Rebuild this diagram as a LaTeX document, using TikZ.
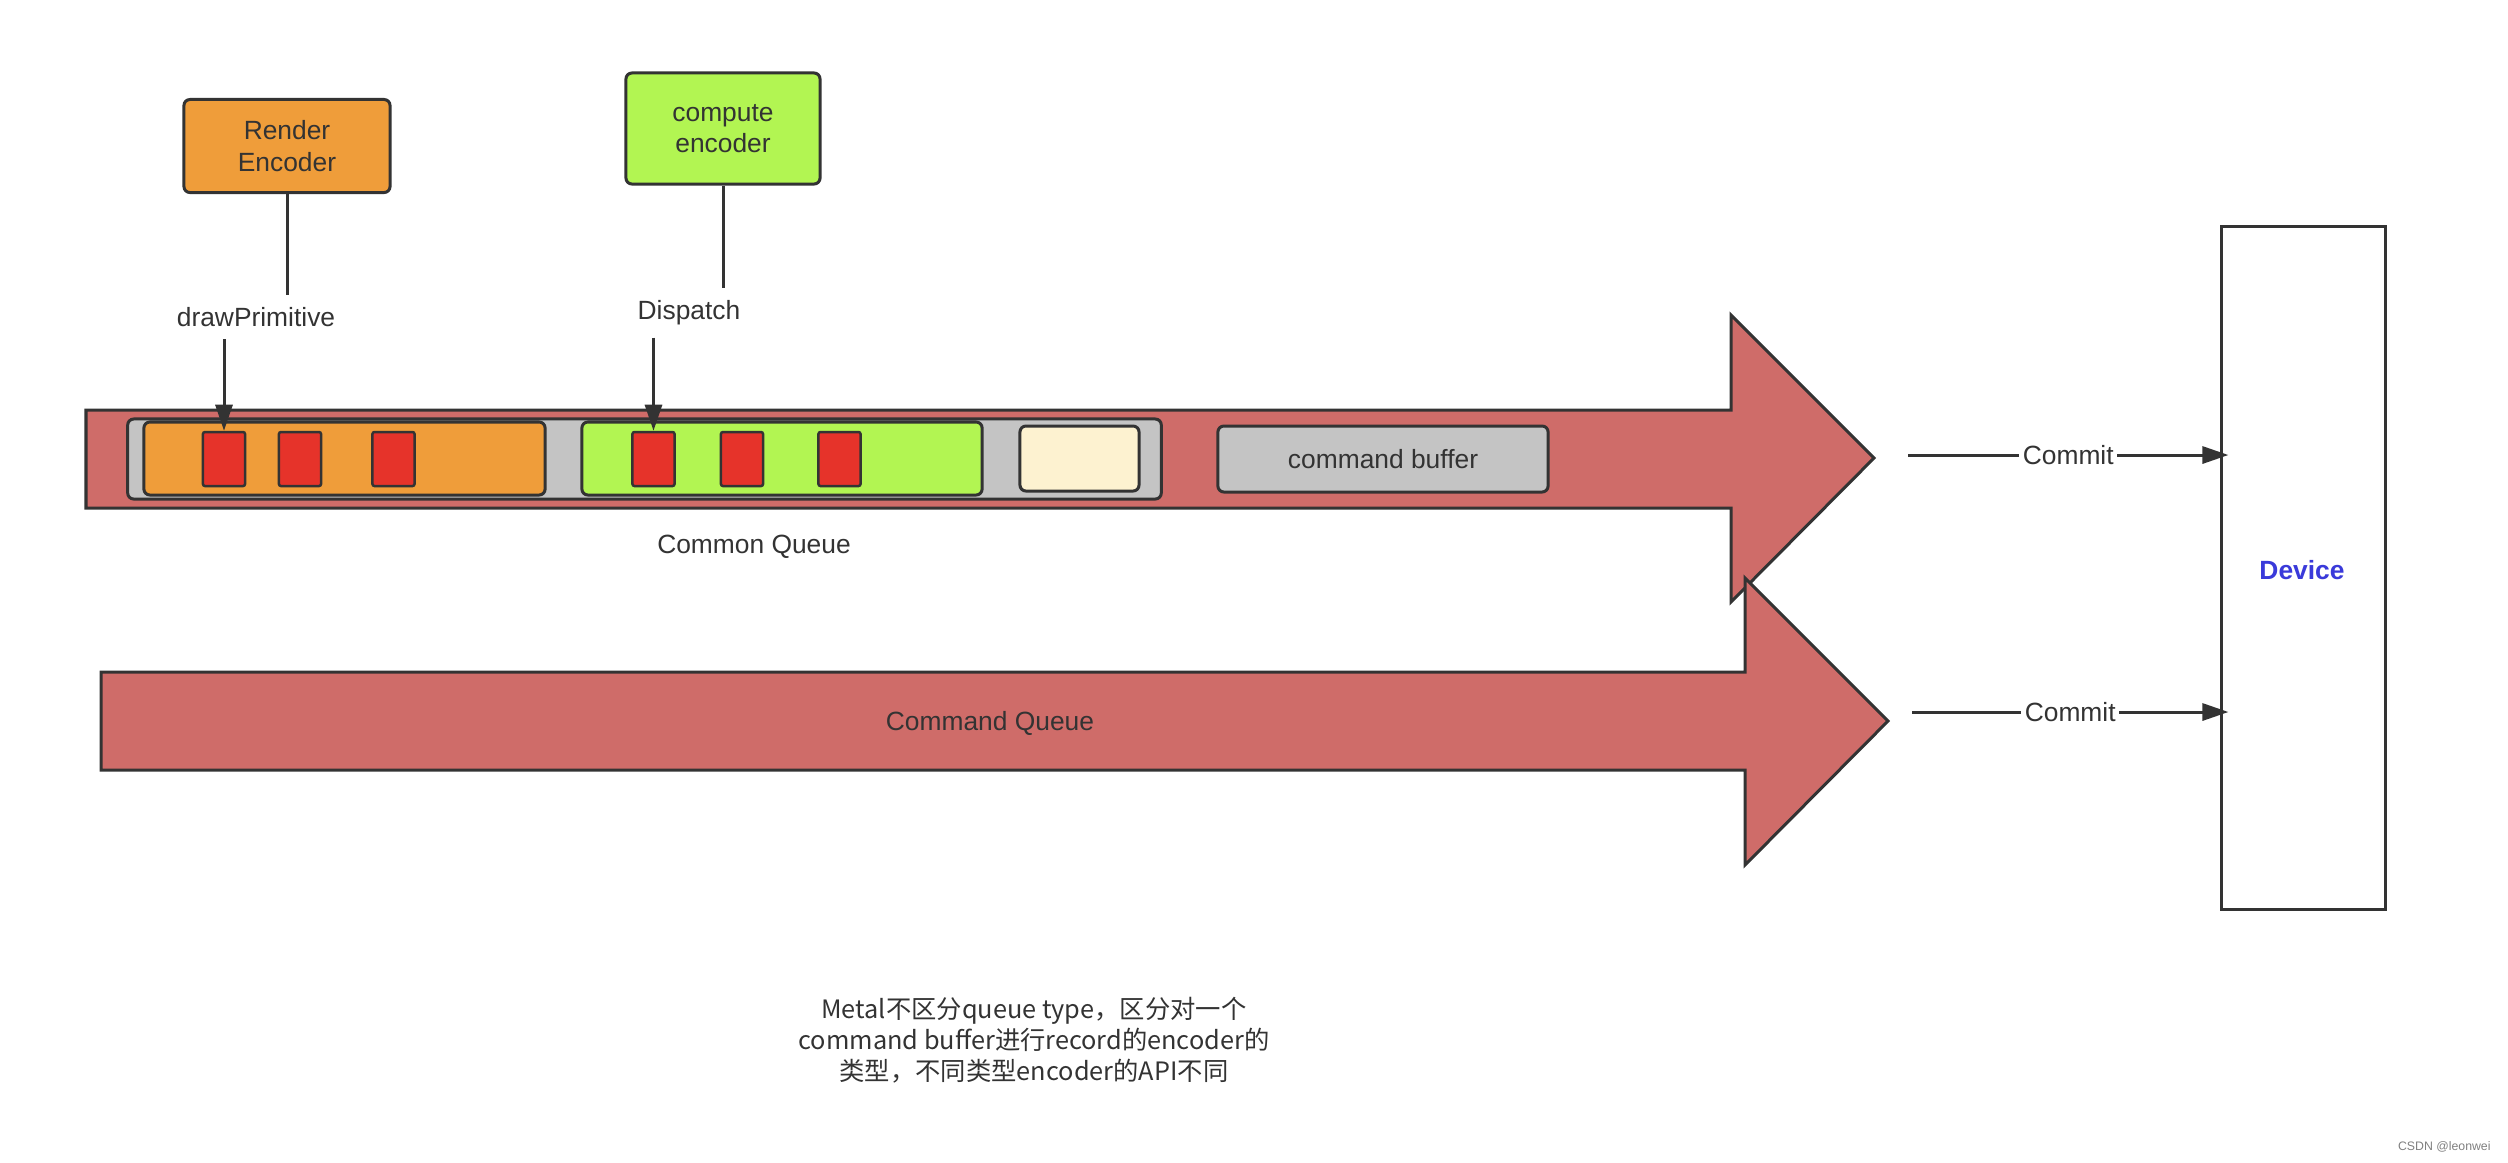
\documentclass[tikz,border=0pt]{standalone}
\usepackage{fontspec}
\setmainfont{Liberation Sans}
\newfontfamily\cjk{Noto Sans CJK SC}
\usepackage{xcolor}
\definecolor{queuecolor}{RGB}{207,108,105}
\definecolor{rendercolor}{RGB}{239,157,58}
\definecolor{computecolor}{RGB}{178,245,82}
\definecolor{buffercolor}{RGB}{196,196,196}
\definecolor{cmdcolor}{RGB}{230,51,42}
\definecolor{idlecolor}{RGB}{253,242,208}
\definecolor{inkcolor}{RGB}{51,51,51}
\definecolor{devicecolor}{RGB}{58,58,218}
\usepackage{tikz}
\usetikzlibrary{arrows.meta, calc}

\begin{document}
\begin{tikzpicture}[x=0.01cm,y=-0.01cm,
  every node/.style={font=\fontsize{7.5}{9}\selectfont, text=inkcolor},
  box/.style={draw=inkcolor, line width=0.3mm, rounded corners=0.6mm, inner sep=0pt},
  cmd/.style={draw=inkcolor, line width=0.25mm, fill=cmdcolor, rounded corners=0.2mm,
              minimum width=0.42cm, minimum height=0.54cm, inner sep=0pt},
  queue/.style={draw=inkcolor, line width=0.3mm, fill=queuecolor, line join=miter},
  wire/.style={color=inkcolor, line width=0.3mm},
  push/.style={-{Triangle[length=2.6mm,width=1.7mm]}}
]
  \useasboundingbox (0,0) rectangle (2508,1162);

  \draw[queue] (86,410) -- (1731,410) -- (1731,315) -- (1874,458)
    -- (1731,602) -- (1731,508) -- (86,508) -- cycle;
  \node[box, fill=buffercolor, minimum width=10.33cm, minimum height=0.80cm] (cbuf) at (644.5,459) {};
  \node[box, fill=rendercolor, minimum width=4.01cm, minimum height=0.73cm] (rpass) at (344.5,458.5) {};
  \node[box, fill=computecolor, minimum width=4.00cm, minimum height=0.73cm] (cpass) at (782,458.5) {};
  \node[box, fill=idlecolor, minimum width=1.19cm, minimum height=0.65cm] (idle) at (1079.5,458.5) {};
  \foreach \x [count=\i] in {224,300,393.5}
    \node[cmd] (r\i) at (\x,459) {};
  \foreach \x [count=\i] in {653.5,742,839.5}
    \node[cmd] (g\i) at (\x,459) {};
  \node[box, fill=buffercolor, minimum width=3.30cm, minimum height=0.66cm] (buffer) at (1383,459) {command buffer};
  \node (common) at (754,547) {Common Queue};

  \draw[queue] (101,672) -- (1745,672) -- (1745,578) -- (1888,721)
    -- (1745,865) -- (1745,770) -- (101,770) -- cycle;
  \node (command) at (990,723) {Command Queue};

  \node[box, fill=rendercolor, minimum width=2.06cm, minimum height=0.93cm, align=center] (render) at (287,146) {Render\\Encoder};
  \node[box, fill=computecolor, minimum width=1.94cm, minimum height=1.11cm, align=center] (compute) at (723,128.5) {compute\\encoder};
  \node (draw) at (256,317) {drawPrimitive};
  \node (dispatch) at (689,313) {Dispatch};

  \node[draw=inkcolor, line width=0.3mm, fill=white, minimum width=1.63cm, minimum height=6.82cm] (device) at (2303.5,568) {};
  \node[text=devicecolor, font=\fontsize{7.5}{9}\selectfont\bfseries] (devlabel) at (2302,570) {Device};

  \coordinate (c1) at (1908,455);
  \coordinate (c2) at (1912,712);

  \path[wire]
    (render) edge (render.south |- draw.north)
    (compute) edge (compute.south |- dispatch.north);
  \path[wire, push]
    (draw.south -| r1) edge (r1.north)
    (dispatch.south -| g1) edge (g1.north)
    (c1) edge node[fill=white, inner sep=1pt] {Commit} ($(c1 -| device.west)+(8,0)$)
    (c2) edge node[fill=white, inner sep=1pt] {Commit} ($(c2 -| device.west)+(8,0)$);

  \node[align=center, font=\cjk\fontsize{7.2}{8.8}\selectfont] (note) at (1034,1040)
    {Metal不区分queue type，区分对一个\\command buffer进行record的encoder的\\类型，不同类型encoder的API不同};
  \node[anchor=east, font=\fontsize{3.5}{4}\selectfont, text=gray] (mark) at (2503,1147) {CSDN @leonwei};
\end{tikzpicture}
\end{document}
